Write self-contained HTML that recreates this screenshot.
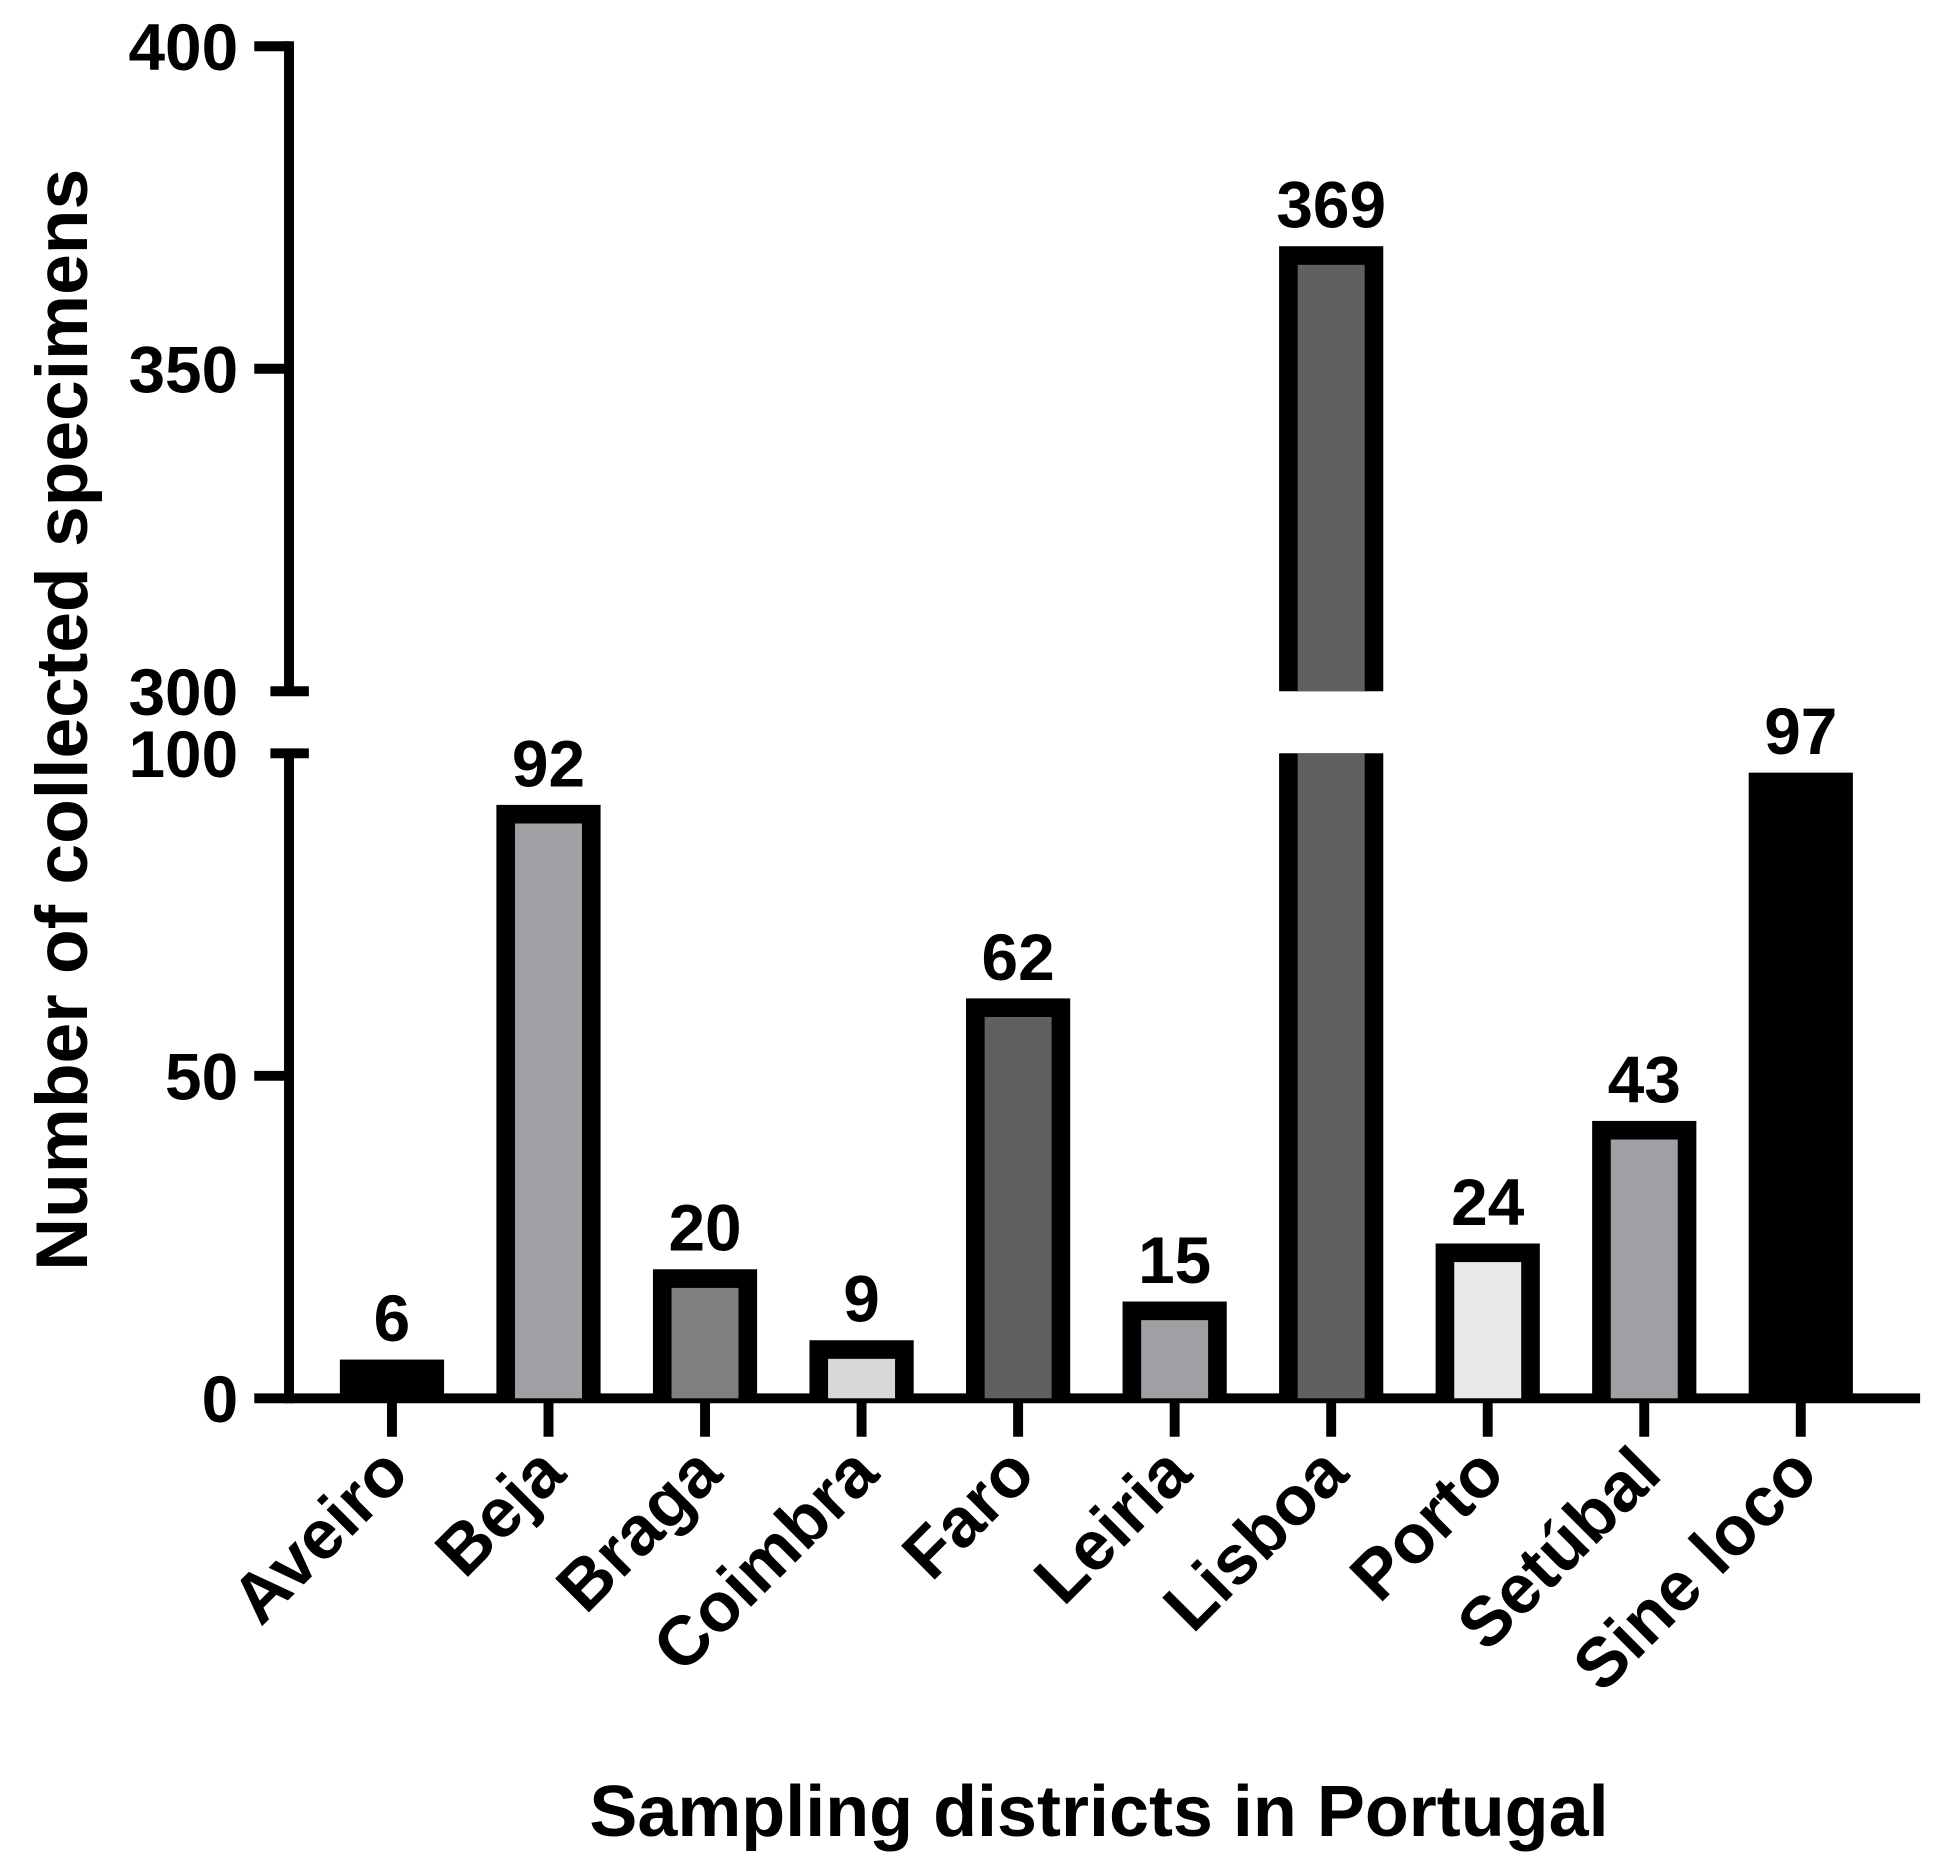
<!DOCTYPE html>
<html><head><meta charset="utf-8"><style>
html,body{margin:0;padding:0;background:#fff;}
svg{display:block;font-family:"Liberation Sans",Arial,sans-serif;font-weight:bold;}
</style></head><body>
<svg id="chart" width="1935" height="1870" viewBox="0 0 1560 1507" xmlns="http://www.w3.org/2000/svg">
<g id="axes"></g>
<g id="bars"></g>
<text transform="translate(70,580) rotate(-90)" text-anchor="middle" font-size="59">Number of collected specimens</text>
<text x="886" y="1480" text-anchor="middle" font-size="58">Sampling districts in Portugal</text>
</svg>
<script>
const categories = ["Aveiro","Beja","Braga","Coimbra","Faro","Leiria","Lisboa","Porto","Setúbal","Sine loco"];
const values = [6,92,20,9,62,15,369,24,43,97];
const fills = ["#000000","#a0a0a4","#808080","#d8d8d8","#606060","#a0a0a4","#606060","#e8e8e8","#a0a0a4","#000000"];
const lowerTicks = [0,50,100];
const upperTicks = [300,350,400];

const NS="http://www.w3.org/2000/svg";
const axisX=233, baseY=1127, lowTopY=607, upTopY=37, upBotY=557, pxPer=5.2;
const firstX=316, step=126.2, barW=84, border=15;
function yScale(v){ return v<=100 ? baseY-v*pxPer : upBotY-(v-300)*pxPer; }
function xScale(i){ return firstX+i*step; }
function mk(tag,attrs,parent){const e=document.createElementNS(NS,tag);for(const k in attrs)e.setAttribute(k,attrs[k]);parent.appendChild(e);return e;}
const axes=document.getElementById('axes'), bars=document.getElementById('bars');

let l=mk('line',{x1:axisX,x2:axisX,y1:upTopY-4,y2:upBotY,stroke:'#000','stroke-width':8},axes);


l=mk('line',{x1:axisX,x2:axisX,y1:lowTopY,y2:baseY+4,stroke:'#000','stroke-width':8},axes);


mk('line',{x1:218,x2:249,y1:upBotY,y2:upBotY,stroke:'#000','stroke-width':8},axes);
mk('line',{x1:218,x2:249,y1:lowTopY,y2:lowTopY,stroke:'#000','stroke-width':8},axes);
l=mk('line',{x1:205,x2:1548,y1:baseY,y2:baseY,stroke:'#000','stroke-width':8},axes);



lowerTicks.concat(upperTicks).forEach(v=>{
  const y=yScale(v);
  if(v!==300 && v!==100 && v!==0) mk('line',{x1:205,x2:axisX,y1:y,y2:y,stroke:'#000','stroke-width':8},axes);
  const t=mk('text',{x:192,y:y+19,'text-anchor':'end','font-size':53},axes);
  t.textContent=v;
  
  
});

categories.forEach((c,i)=>{
  const cx=xScale(i), v=values[i];
  mk('line',{x1:cx,x2:cx,y1:baseY,y2:1158,stroke:'#000','stroke-width':8},axes);
  const lab=mk('text',{transform:`translate(${cx+16},${1190}) rotate(-45)`,'text-anchor':'end','font-size':56},axes);
  lab.textContent=c;
  
  

  const top=yScale(v);
  const segs = v>100 ? [[top,upBotY],[lowTopY,baseY]] : [[top,baseY]];
  segs.forEach((s,k)=>{
    const r=mk('rect',{x:cx-barW/2,y:s[0],width:barW,height:s[1]-s[0],fill:'#000'},bars);
    
    
    const it=(k===0)?border:0;
    const ih=s[1]-s[0]-it;
    if(ih>0) mk('rect',{x:cx-barW/2+border,y:s[0]+it,width:barW-2*border,height:ih,fill:fills[i]},bars);
  });
  const vt=mk('text',{x:cx,y:top-15,'text-anchor':'middle','font-size':53},bars);
  vt.textContent=v;
  
  
});
</script>
</body></html>
